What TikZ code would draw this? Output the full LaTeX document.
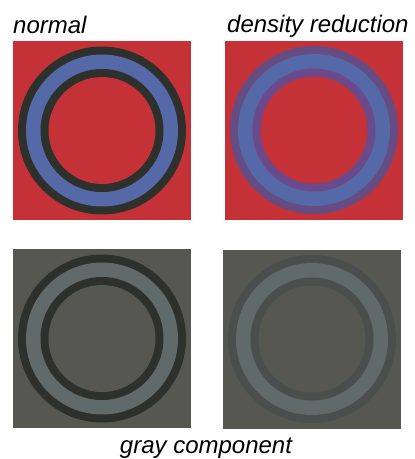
\documentclass[tikz,border=0pt]{standalone}
\usepackage{fontspec}
\setmainfont{Liberation Sans}
\usetikzlibrary{positioning}
\definecolor{bgRed}{RGB}{196,50,56}
\definecolor{ringBlue}{RGB}{85,105,168}
\definecolor{edgeDark}{RGB}{46,48,44}
\definecolor{edgePurple}{RGB}{101,76,130}
\definecolor{edgeViolet}{RGB}{107,74,140}
\definecolor{bgGray}{RGB}{87,87,82}
\definecolor{ringGray}{RGB}{96,106,107}
\definecolor{edgeGray}{RGB}{74,79,77}
\tikzset{
  panel/.style={draw=none, minimum width=178pt, minimum height=179pt, inner sep=0pt, outer sep=0pt},
  caption/.style={font=\fontsize{24}{24}\selectfont\itshape, inner sep=0pt, anchor=base west}
}
\begin{document}
\begin{tikzpicture}[x=1pt,y=-1pt]
\useasboundingbox (0,0) rectangle (415,459);
% colour panels
\node[panel, fill=bgRed] (normal) at (102,130.5) {};
\node[panel, fill=bgRed] (density) at (314,130) {};
\node[panel, fill=bgGray] (grayNormal) at (102,338.5) {};
\node[panel, fill=bgGray] (grayDensity) at (312,339) {};
% rings
\foreach \p/\bg/\ring/\outer/\inner in {normal/bgRed/ringBlue/edgeDark/edgeDark,
    density/bgRed/ringBlue/edgePurple/edgeViolet,
    grayNormal/bgGray/ringGray/edgeDark/edgeDark,
    grayDensity/bgGray/ringGray/edgeGray/edgeGray}{
  \fill[\outer] (\p) circle (84pt);
  \fill[\ring] (\p) circle (76pt);
  \fill[\inner] (\p) circle (61.5pt);
  \fill[\bg] (\p) circle (53.5pt);
}
% labels
\node[caption] (normalLabel) at ([yshift=8pt]normal.north west) {normal};
\node[caption] (densityLabel) at ([xshift=2pt,yshift=8pt]density.north west) {density reduction};
\node[caption, anchor=base] (grayLabel) at (206,453) {gray component};
\end{tikzpicture}
\end{document}
